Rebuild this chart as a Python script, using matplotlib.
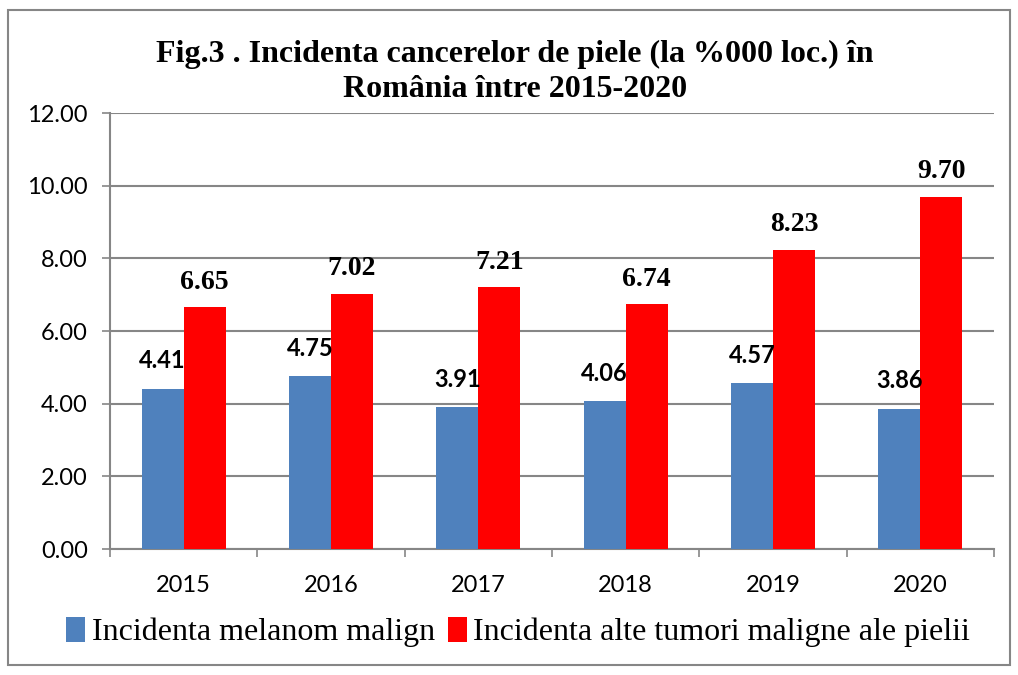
import matplotlib
matplotlib.use("Agg")
import matplotlib.pyplot as plt
from matplotlib.patches import Rectangle
import numpy as np

years = ["2015", "2016", "2017", "2018", "2019", "2020"]
melanom = [4.41, 4.75, 3.91, 4.06, 4.57, 3.86]
alte = [6.65, 7.02, 7.21, 6.74, 8.23, 9.70]
series_names = ["Incidenta melanom malign", "Incidenta alte tumori maligne ale pielii"]
title = "Fig.3 . Incidenta cancerelor de piele (la %000 loc.) în\nRomânia între 2015-2020"

blue = "#4F81BD"
red = "#FF0000"
grid_c = "#868686"

fig = plt.figure(figsize=(10.18, 6.75), dpi=100)
fig.patches.append(Rectangle((8/1018, 1-665/675), 1002/1018, 655/675, transform=fig.transFigure,
                             fill=False, edgecolor=grid_c, linewidth=1.5))
ax = fig.add_axes([110/1018, 1-549/675, 884/1018, 436/675])

x = np.arange(len(years))
w = 0.285
b1 = ax.bar(x - w/2, melanom, w, color=blue, label=series_names[0], zorder=3)
b2 = ax.bar(x + w/2, alte, w, color=red, label=series_names[1], zorder=3)

ax.set_xlim(-0.5, len(years) - 0.5)
ax.set_ylim(0, 12)
ax.set_yticks(np.arange(0, 12.01, 2))
ax.set_yticklabels([f"{v:.2f}" for v in np.arange(0, 12.01, 2)], family="Lato", fontsize=17)
ax.yaxis.grid(True, color=grid_c, linewidth=1.5, zorder=0)
ax.set_xticks(x)
ax.set_xticklabels(years, family="Lato", fontsize=17)
ax.tick_params(axis="x", length=0, pad=19)
ax.set_xticks(np.arange(-0.5, len(years), 1), minor=True)
ax.tick_params(axis="x", which="minor", length=6, color=grid_c, width=1.2)
ax.tick_params(axis="y", length=6, color=grid_c, width=1.2, pad=10)
for s in ["top", "right"]:
    ax.spines[s].set_visible(False)
for s in ["left", "bottom"]:
    ax.spines[s].set_color(grid_c)
    ax.spines[s].set_linewidth(1.5)

for xi, v in zip(x, melanom):
    ax.annotate(f"{v:.2f}", (xi - w/2, v), xytext=(0, 20), textcoords="offset points",
                ha="center", va="center", family="Lato", fontweight="bold", fontsize=17, zorder=4)
for xi, v in zip(x, alte):
    ax.annotate(f"{v:.2f}", (xi + w/2, v), xytext=(0, 18), textcoords="offset points",
                ha="center", va="center", family="Liberation Serif", fontweight="bold", fontsize=20, zorder=4)

fig.text(515/1018, 1-72/675, title, ha="center", va="center", family="Liberation Serif",
         fontweight="bold", fontsize=23, linespacing=1.3)

fig.legend(handles=[b1, b2], labels=series_names, loc="center", bbox_to_anchor=(518/1018, 1-632/675),
           ncol=2, frameon=False, prop={"family": "Liberation Serif", "size": 23},
           handlelength=0.6, handleheight=0.85, handletextpad=0.2, columnspacing=0.4)

fig.savefig("out.png", dpi=100)
